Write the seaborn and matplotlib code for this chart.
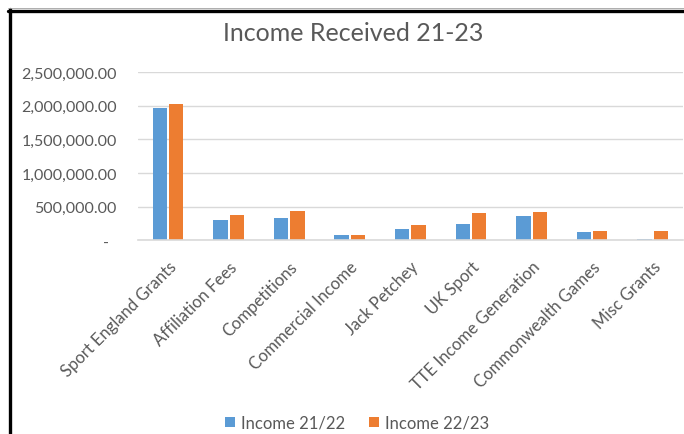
import matplotlib
matplotlib.use("Agg")
import matplotlib.pyplot as plt
import seaborn as sns
import pandas as pd
from matplotlib.lines import Line2D
from matplotlib.patches import Patch
from matplotlib.ticker import FuncFormatter

categories = ["Sport England Grants", "Affiliation Fees", "Competitions",
              "Commercial Income", "Jack Petchey", "UK Sport",
              "TTE Income Generation", "Commonwealth Games", "Misc Grants"]
income_21_22 = [1961000, 303000, 323000, 81000, 172000, 247000, 359000, 116000, 25000]
income_22_23 = [2021000, 379000, 434000, 78000, 227000, 399000, 419000, 141000, 141000]
series_names = ["Income 21/22", "Income 22/23"]
colors = ["#5B9BD5", "#ED7D31"]
yticks = [0, 500000, 1000000, 1500000, 2000000, 2500000]

df = pd.DataFrame({
    "Category": categories * 2,
    "Value": income_21_22 + income_22_23,
    "Series": [series_names[0]] * len(categories) + [series_names[1]] * len(categories),
})

sns.set_theme(style="white")
plt.rcParams["font.family"] = ["Lato", "DejaVu Sans"]

fig = plt.figure(figsize=(6.84, 4.35), dpi=100)
ax = fig.add_axes([0.2015, 0.4455, 0.797, 0.3865])

sns.barplot(data=df, x="Category", y="Value", hue="Series", palette=colors,
            saturation=1, width=0.54, gap=0.12, ax=ax, edgecolor="none",
            linewidth=0, legend=False, errorbar=None)

ax.set_ylim(0, 2500000)
ax.set_xlim(-0.5, len(categories) - 0.5)
ax.set_yticks(yticks)

def fmt(v, pos):
    if v == 0:
        return "-  "
    return f"{v:,.2f}"

ax.yaxis.set_major_formatter(FuncFormatter(fmt))
ax.grid(axis="y", color="#D9D9D9", linewidth=1)
ax.set_axisbelow(True)
for s in ["top", "right", "left"]:
    ax.spines[s].set_visible(False)
ax.spines["bottom"].set_color("#D9D9D9")
ax.spines["bottom"].set_linewidth(1.2)
ax.tick_params(axis="both", length=0, colors="#595959", labelsize=11.5)
ax.tick_params(axis="y", pad=15)
ax.tick_params(axis="x", pad=13)
ax.set_xlabel("")
ax.set_ylabel("")
for lab in ax.get_xticklabels():
    lab.set_rotation(45)
    lab.set_ha("right")
    lab.set_rotation_mode("anchor")
    lab.set_fontsize(12)
    lab.set_color("#595959")

fig.text(0.516, 0.924, "Income Received 21-23", ha="center", va="center",
         fontsize=18, color="#595959")

handles = [Patch(facecolor=c, edgecolor="none") for c in colors]
fig.legend(handles, series_names, loc="center", bbox_to_anchor=(0.522, 0.026),
           ncol=2, frameon=False, fontsize=12, handlelength=0.6, handleheight=0.6,
           handletextpad=0.35, columnspacing=1.4, labelcolor="#595959")

# screenshot frame
fig.add_artist(Line2D([9.5 / 684, 9.5 / 684], [0, 1 - 10 / 435], transform=fig.transFigure,
                      color="black", linewidth=2.4))
fig.add_artist(Line2D([8 / 684, 1], [1 - 11.5 / 435, 1 - 11.5 / 435], transform=fig.transFigure,
                      color="black", linewidth=2.4))
fig.add_artist(Line2D([8 / 684, 1], [1 - 9 / 435, 1 - 9 / 435], transform=fig.transFigure,
                      color="#A0A0A0", linewidth=0.6))

fig.savefig("out.png", dpi=100)
